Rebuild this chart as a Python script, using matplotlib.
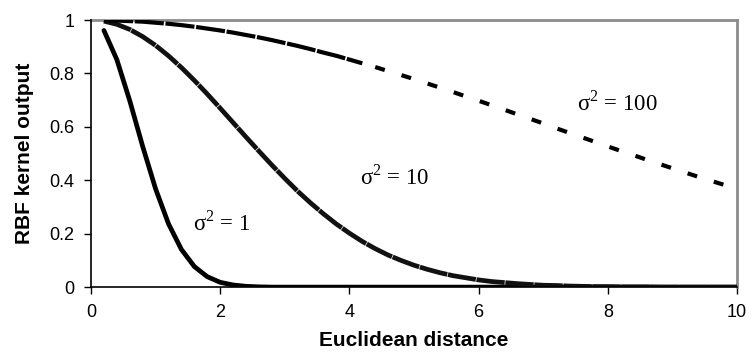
#!/usr/bin/env python3
"""RBF kernel output vs Euclidean distance for three kernel widths."""

import matplotlib
matplotlib.use("Agg")
import matplotlib.pyplot as plt
from matplotlib.ticker import FuncFormatter

# ── Data ──────────────────────────────────────────────────────────────────────

dist = [0.2, 0.4, 0.6, 0.8, 1.0, 1.2, 1.4, 1.6, 1.8, 2.0,
        2.2, 2.4, 2.6, 2.8, 3.0, 3.2, 3.4, 3.6, 3.8, 4.0,
        4.2, 4.4, 4.6, 4.8, 5.0, 5.2, 5.4, 5.6, 5.8, 6.0,
        6.2, 6.4, 6.6, 6.8, 7.0, 7.2, 7.4, 7.6, 7.8, 8.0,
        8.2, 8.4, 8.6, 8.8, 9.0, 9.2, 9.4, 9.6, 9.8, 10.0]

k_sig1 = [0.961, 0.852, 0.698, 0.527, 0.368, 0.237, 0.141, 0.077, 0.039, 0.018,
          0.008, 0.003, 0.001, 0.000, 0.000, 0.000, 0.000, 0.000, 0.000, 0.000,
          0.000, 0.000, 0.000, 0.000, 0.000, 0.000, 0.000, 0.000, 0.000, 0.000,
          0.000, 0.000, 0.000, 0.000, 0.000, 0.000, 0.000, 0.000, 0.000, 0.000,
          0.000, 0.000, 0.000, 0.000, 0.000, 0.000, 0.000, 0.000, 0.000, 0.000]

k_sig10 = [0.996, 0.984, 0.965, 0.938, 0.905, 0.866, 0.822, 0.774, 0.723, 0.670,
           0.616, 0.562, 0.509, 0.457, 0.407, 0.359, 0.315, 0.274, 0.236, 0.202,
           0.171, 0.144, 0.120, 0.100, 0.082, 0.067, 0.054, 0.043, 0.035, 0.027,
           0.021, 0.017, 0.013, 0.010, 0.007, 0.006, 0.004, 0.003, 0.002, 0.002,
           0.001, 0.001, 0.001, 0.000, 0.000, 0.000, 0.000, 0.000, 0.000, 0.000]

k_sig100 = [1.000, 0.998, 0.996, 0.994, 0.990, 0.986, 0.981, 0.975, 0.968, 0.961,
            0.953, 0.944, 0.935, 0.925, 0.914, 0.903, 0.891, 0.878, 0.866, 0.852,
            0.838, 0.824, 0.809, 0.794, 0.779, 0.763, 0.747, 0.731, 0.714, 0.698,
            0.681, 0.664, 0.647, 0.630, 0.613, 0.595, 0.578, 0.561, 0.544, 0.527,
            0.510, 0.494, 0.477, 0.461, 0.445, 0.429, 0.413, 0.398, 0.383, 0.368]

labels = [r"σ$^\mathregular{2}$ = 1", r"σ$^\mathregular{2}$ = 10",
          r"σ$^\mathregular{2}$ = 100"]

# ── Plot ──────────────────────────────────────────────────────────────────────

plt.rcParams["font.family"] = ["Liberation Sans", "DejaVu Sans"]

fig = plt.figure(figsize=(7.52, 3.58), dpi=100)
ax = fig.add_axes([0.121, 0.198, 0.859, 0.746])

ax.plot(dist, k_sig1, color="black", lw=3.4, solid_capstyle="round",
        solid_joinstyle="round", zorder=3)
ax.plot(dist, k_sig10, color="#111111", lw=3.4,
        ls=(0, (6, 0.15)), zorder=3)

# sigma^2 = 100: dense dashes near the top, sparse dashes further out
split = dist.index(4.2)
ax.plot(dist[:split + 1], k_sig100[:split + 1], color="black", lw=3.0,
        ls=(0, (7, 0.4)), zorder=3)
ax.plot(dist[split + 1:], k_sig100[split + 1:], color="black", lw=3.0,
        ls=(0, (2.4, 4.2)), zorder=3)

serif = {"family": "Liberation Serif", "fontsize": 16.5}
ax.text(1.58, 0.24, labels[0], va="center", ha="left", **serif)
ax.text(4.16, 0.41, labels[1], va="center", ha="left", **serif)
ax.text(7.52, 0.69, labels[2], va="center", ha="left", **serif)

ax.set_xlim(0, 10)
ax.set_ylim(0, 1)
ax.set_xticks([0, 2, 4, 6, 8, 10])
ax.set_yticks([0, 0.2, 0.4, 0.6, 0.8, 1.0])
ax.yaxis.set_major_formatter(FuncFormatter(lambda v, _: f"{v:g}"))
ax.tick_params(direction="out", length=5, width=1, labelsize=13,
               color="black", pad=7)

for side in ("top", "right"):
    ax.spines[side].set_color("#8c8c8c")
    ax.spines[side].set_linewidth(2)
for side in ("left", "bottom"):
    ax.spines[side].set_color("black")
    ax.spines[side].set_linewidth(1.2)
    ax.spines[side].set_zorder(4)

ax.set_xlabel("Euclidean distance", fontsize=15, fontweight="bold", labelpad=7)
ax.set_ylabel("RBF kernel output", fontsize=15, fontweight="bold", labelpad=11)

fig.savefig("out.png", dpi=100)
plt.close(fig)
